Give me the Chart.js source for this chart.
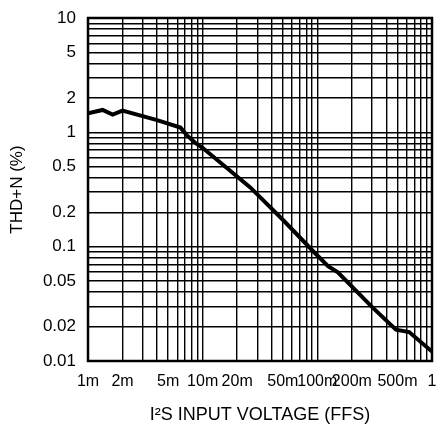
<!DOCTYPE html>
<html>
<head>
<meta charset="utf-8">
<script src="https://cdn.jsdelivr.net/npm/chart.js@4/dist/chart.umd.min.js"></script>
<style>
html,body{margin:0;padding:0;background:#fff;}
#wrap{width:443px;height:433px;position:relative;}
</style>
</head>
<body>
<div id="wrap"><canvas id="c" width="443" height="433"></canvas></div>
<script>
// Data (x in FFS, y in %)
const inputVoltage = [0.001, 0.00134, 0.00164, 0.002, 0.004, 0.0064, 0.0073, 0.0086, 0.0101, 0.026, 0.05, 0.092, 0.124, 0.151, 0.304, 0.485, 0.632, 1.0];
const thdN = [1.47, 1.57, 1.43, 1.55, 1.28, 1.1, 0.94, 0.81, 0.726, 0.33, 0.172, 0.0912, 0.0675, 0.0597, 0.0293, 0.0188, 0.0179, 0.0121];

const xTickValues = [0.001, 0.002, 0.005, 0.01, 0.02, 0.05, 0.1, 0.2, 0.5, 1];
const xTickLabels = ['1m', '2m', '5m', '10m', '20m', '50m', '100m', '200m', '500m', '1'];
const yTickValues = [0.01, 0.02, 0.05, 0.1, 0.2, 0.5, 1, 2, 5, 10];
const yTickLabels = ['0.01', '0.02', '0.05', '0.1', '0.2', '0.5', '1', '2', '5', '10'];

function decadeGrid(min, max) {
  const out = [];
  for (let e = Math.round(Math.log10(min)); e < Math.round(Math.log10(max)); e++) {
    for (let s = 1; s <= 9; s++) out.push(+(s * Math.pow(10, e)).toPrecision(6));
  }
  out.push(max);
  return out;
}
function labelFor(vals, labels, v) {
  for (let i = 0; i < vals.length; i++) {
    if (Math.abs(vals[i] - v) / vals[i] < 1e-6) return labels[i];
  }
  return '';
}

const frame = {
  id: 'frame',
  afterDraw(chart) {
    const a = chart.chartArea, ctx = chart.ctx;
    ctx.save();
    ctx.strokeStyle = '#000';
    ctx.lineWidth = 2.5;
    ctx.strokeRect(a.left, a.top, a.right - a.left, a.bottom - a.top);
    ctx.restore();
  }
};

const fam = '"Liberation Sans", Arial, sans-serif';

new Chart(document.getElementById('c'), {
  type: 'line',
  data: {
    datasets: [{
      data: inputVoltage.map((x, i) => ({x: x, y: thdN[i]})),
      borderColor: '#000',
      borderWidth: 4,
      pointRadius: 0,
      tension: 0,
      fill: false
    }]
  },
  options: {
    responsive: false,
    animation: false,
    devicePixelRatio: 1,
    layout: {padding: {top: 18, right: 11, left: 0, bottom: 0}},
    plugins: {legend: {display: false}, tooltip: {enabled: false}},
    scales: {
      x: {
        type: 'logarithmic',
        min: 0.001, max: 1,
        afterBuildTicks: (s) => { s.ticks = decadeGrid(0.001, 1).map(v => ({value: v})); },
        afterFit: (s) => { s.height = 72; s.paddingLeft = 0; s.paddingRight = 0; },
        grid: {color: '#000', lineWidth: 1.4, drawTicks: false},
        border: {display: false},
        ticks: {
          autoSkip: false, maxRotation: 0, minRotation: 0, padding: 11,
          color: '#000', font: {family: fam, size: 16},
          callback: (v) => labelFor(xTickValues, xTickLabels, v)
        },
        title: {display: true, text: 'I²S INPUT VOLTAGE (FFS)', color: '#000', font: {family: fam, size: 18}, padding: {top: 14, bottom: 7}}
      },
      y: {
        type: 'logarithmic',
        min: 0.01, max: 10,
        afterBuildTicks: (s) => { s.ticks = decadeGrid(0.01, 10).map(v => ({value: v})); },
        afterFit: (s) => { s.width = 88; s.paddingTop = 0; s.paddingBottom = 0; },
        grid: {color: '#000', lineWidth: 1.4, drawTicks: false},
        border: {display: false},
        ticks: {
          autoSkip: false, padding: 12,
          color: '#000', font: {family: fam, size: 17},
          callback: (v) => labelFor(yTickValues, yTickLabels, v)
        },
        title: {display: true, text: 'THD+N (%)', color: '#000', font: {family: fam, size: 17}, padding: {top: 7, bottom: 4}}
      }
    }
  },
  plugins: [frame]
});
</script>
</body>
</html>
